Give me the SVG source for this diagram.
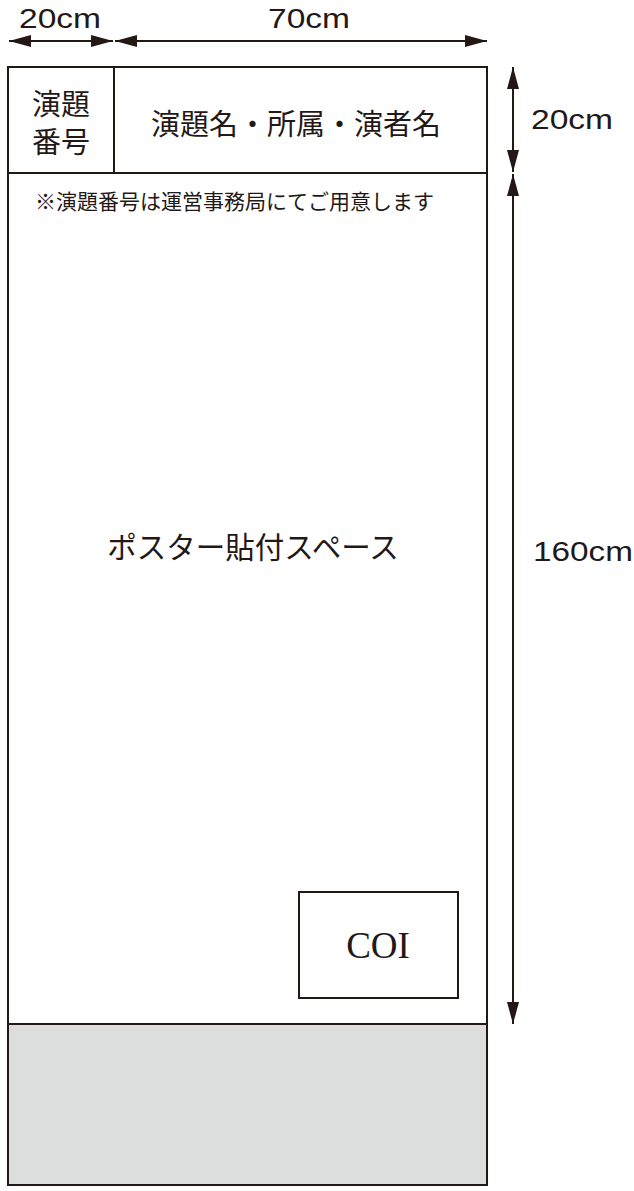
<svg xmlns="http://www.w3.org/2000/svg" width="634" height="1191" viewBox="0 0 634 1191">
<style>
.box{fill:none;stroke:#231815;stroke-width:2}
.dim{stroke:#231815;stroke-width:2;fill:none}
.jp{font-family:"Noto Sans CJK JP","Noto Sans",sans-serif;fill:#231815}
.lab{font-family:"Liberation Sans",Arial,sans-serif;fill:#231815;font-size:27px}
</style>
<defs>
<marker id="ah" viewBox="0 0 22 12" refX="22" refY="6" markerWidth="22" markerHeight="12" markerUnits="userSpaceOnUse" orient="auto-start-reverse">
<path d="M0,0 L22,6 L0,12 Z" fill="#231815"/>
</marker>
</defs>
<rect width="634" height="1191" fill="#fff"/>
<g id="grey-area"><rect x="8" y="1024" width="479" height="161" style="fill:#dcdddd;stroke:#231815;stroke-width:2"/></g>
<g id="poster-board">
<rect x="8" y="67" width="479" height="1118" class="box"/>
<line x1="8" y1="173" x2="487" y2="173" class="box"/>
<line x1="114" y1="67" x2="114" y2="173" class="box"/>
<line x1="8" y1="1024" x2="487" y2="1024" class="box"/>
</g>
<g id="number-cell">
<text x="61" y="115" text-anchor="middle" class="jp" font-size="29">演題</text>
<text x="61" y="153" text-anchor="middle" class="jp" font-size="29">番号</text>
</g>
<g id="title-cell">
<text x="296" y="135" text-anchor="middle" class="jp" font-size="29">演題名・所属・演者名</text>
</g>
<g id="note"><text x="35" y="209" class="jp" font-size="21">※演題番号は運営事務局にてご用意します</text></g>
<g id="space"><text x="253" y="558" text-anchor="middle" class="jp" font-size="29.5">ポスター貼付スペース</text></g>
<g id="coi">
<rect x="299" y="892" width="159" height="106" class="box" stroke-width="1.5"/>
<text x="378" y="958" text-anchor="middle" font-family="Liberation Serif,serif" font-size="37" fill="#231815">COI</text>
</g>
<g id="connectors">
<line x1="9" y1="41" x2="113" y2="41" class="dim" marker-start="url(#ah)" marker-end="url(#ah)"/>
<line x1="115" y1="41" x2="487" y2="41" class="dim" marker-start="url(#ah)" marker-end="url(#ah)"/>
<line x1="513" y1="67" x2="513" y2="172" class="dim" marker-start="url(#ah)" marker-end="url(#ah)"/>
<line x1="513" y1="174" x2="513" y2="1024" class="dim" marker-start="url(#ah)" marker-end="url(#ah)"/>
</g>
<g id="labels">
<text x="19" y="28" textLength="82" lengthAdjust="spacingAndGlyphs" class="lab">20cm</text>
<text x="268" y="28" textLength="82" lengthAdjust="spacingAndGlyphs" class="lab">70cm</text>
<text x="531" y="129" textLength="82" lengthAdjust="spacingAndGlyphs" class="lab">20cm</text>
<text x="533" y="561" textLength="100" lengthAdjust="spacingAndGlyphs" class="lab">160cm</text>
</g>
</svg>
